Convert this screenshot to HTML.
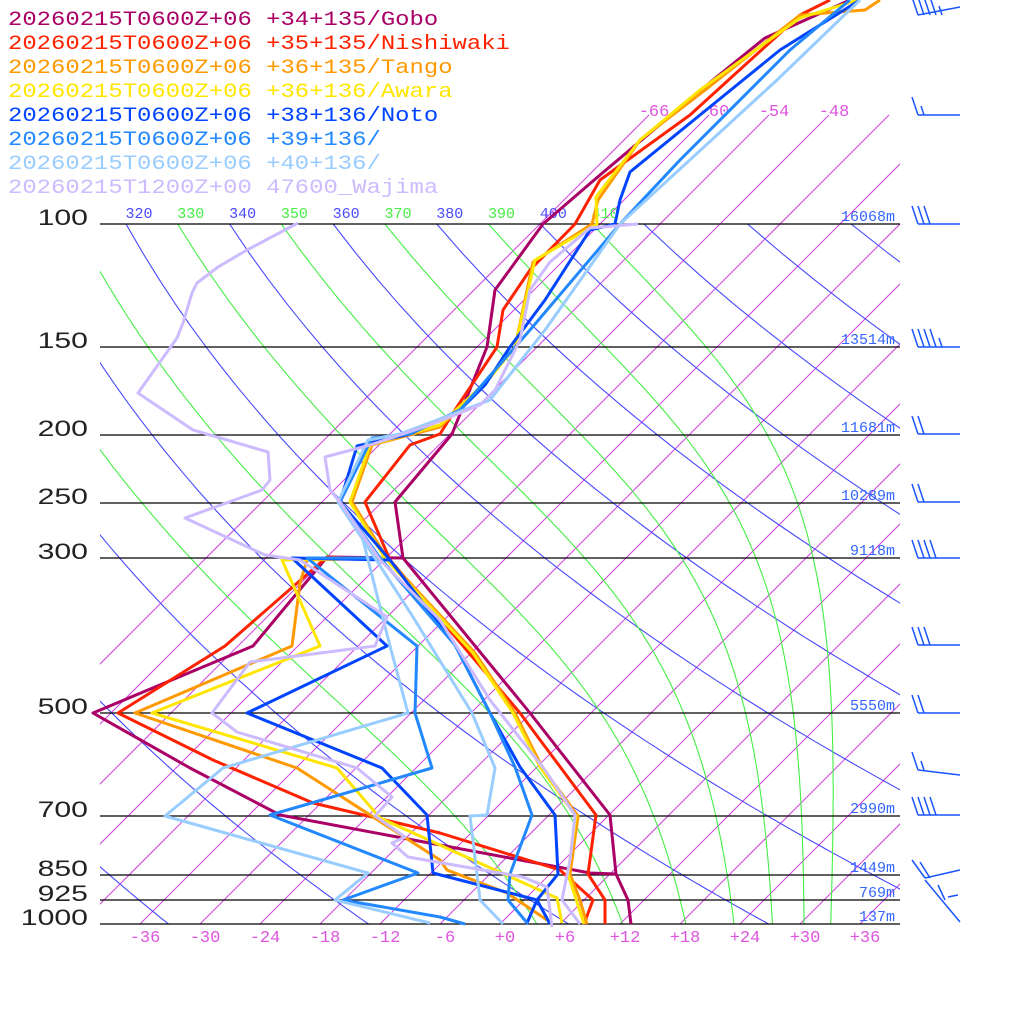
<!DOCTYPE html>
<html><head><meta charset="utf-8"><style>html,body{margin:0;padding:0;background:#fff;width:1024px;height:1024px;overflow:hidden}svg{display:block}</style></head>
<body>
<svg id="s" xmlns="http://www.w3.org/2000/svg" width="1024" height="1024" viewBox="0 0 1024 1024">
<defs><clipPath id="box"><rect x="100" y="224" width="800" height="700"/></clipPath>
<clipPath id="box2"><rect x="100" y="100" width="800" height="824"/></clipPath></defs>
<g id="iso" clip-path="url(#box2)" stroke="#d040e0" stroke-width="1" fill="none"></g>
<g id="adi" clip-path="url(#box)" fill="none" stroke-width="1.1"></g>
<g id="hl" stroke="#000" stroke-width="1.3"></g>
<g id="lab" font-family="Liberation Mono, monospace"></g>
<g id="prof" fill="none" stroke-width="3" stroke-linejoin="round"></g>
<g id="barb" stroke="#1a55ff" stroke-width="1.5" fill="none"></g>
</svg>
<script>
var NS="http://www.w3.org/2000/svg";
function el(p,t,a,txt){var e=document.createElementNS(NS,t);for(var k in a)e.setAttribute(k,a[k]);if(txt!=null)e.textContent=txt;document.getElementById(p).appendChild(e);return e;}
function Y(p){return 924-304*Math.log(1000/p);}
function X(T,y){return 500+10*T+(924-y);}
for(var T=-66;T<=42;T+=6){el("iso","line",{x1:500+10*T,y1:924,x2:500+10*T+809,y2:115});}
for(var th=220;th<=520;th+=20){var pts=[];for(var p=1000;p>=99;p-=10){var y=Y(p);var t=th*Math.pow(p/1000,0.2857)-273.15;pts.push(X(t,y).toFixed(1)+","+y.toFixed(1));}
el("adi","polyline",{points:pts.join(" "),stroke:"#4848ff"});}
function dTdp(T,p){var Tc=T-273.15;var es=6.112*Math.exp(17.67*Tc/(Tc+243.5));var rs=0.622*es/(p-es);var L=2.5e6;return (287*T+L*rs)/(p*(1004+L*L*rs*0.622/(287*T*T)));}
for(var th=290;th<=410;th+=20){var T=th*Math.pow(0.1,0.2857);var pts=[];var p=100;while(p<=1000.01){var y=Y(p);pts.push(X(T-273.15,y).toFixed(1)+","+y.toFixed(1));var h=2;var k1=dTdp(T,p);var k2=dTdp(T+h*k1,p+h);T+=h*(k1+k2)/2;p+=h;}
el("adi","polyline",{points:pts.join(" "),stroke:"#44ee44"});}
var PL=[[100,"100","16068m"],[150,"150","13514m"],[200,"200","11681m"],[250,"250","10289m"],[300,"300","9118m"],[500,"500","5550m"],[700,"700","2990m"],[850,"850","1449m"],[925,"925","769m"],[1000,"1000","137m"]];
PL.forEach(function(a){var y=Math.round(Y(a[0]));el("hl","line",{x1:100,y1:y,x2:900,y2:y});
el("lab","text",{x:88,y:y+1,"font-family":"Liberation Sans, sans-serif","font-size":22,"text-anchor":"end",fill:"#222",textLength:a[1].length*16.8,lengthAdjust:"spacingAndGlyphs"},a[1]);
el("lab","text",{x:895,y:y-3,"font-size":15,"text-anchor":"end",fill:"#3366ff"},a[2]);});
for(var th=320;th<=410;th+=10){var t=th*Math.pow(0.1,0.2857)-273.15;var x=X(t,224)+13;el("lab","text",{x:x,y:218,"font-size":15,"text-anchor":"middle",fill:(th%20==0?"#4848ff":"#44ee44")},""+th);}
[-66,-60,-54,-48].forEach(function(T){el("lab","text",{x:500+10*T+809+5,y:116,"font-size":17,"text-anchor":"middle",fill:"#dd55dd"},""+T);});
for(var T=-36;T<=36;T+=6){el("lab","text",{x:500+10*T+5,y:942,"font-size":17,"text-anchor":"middle",fill:"#dd55dd"},(T>=0?"+":"")+T);}
var H=[["#aa0066","20260215T0600Z+06 +34+135/Gobo"],["#ff2200","20260215T0600Z+06 +35+135/Nishiwaki"],["#ff9900","20260215T0600Z+06 +36+135/Tango"],["#ffe600","20260215T0600Z+06 +36+136/Awara"],["#0044ff","20260215T0600Z+06 +38+136/Noto"],["#2288ff","20260215T0600Z+06 +39+136/"],["#99ccff","20260215T0600Z+06 +40+136/"],["#ccbbff","20260215T1200Z+00 47600_Wajima"]];
H.forEach(function(h,i){el("lab","text",{x:8,y:25+24*i,"font-size":20,fill:h[0],textLength:h[1].length*14.34,lengthAdjust:"spacingAndGlyphs"},h[1]);});
var P=[
["#aa0066","631,924 628,900 616,874 610,815 530,713 403,558 395,502 452,434 487,347 495,290 543,224 600,175 713,80 765,38 850,0"],
["#aa0066","403,558 327,557 253,646 93,713 190,768 280,815 440,845 590,873 616,874"],
["#ff2200","605,924 605,900 588,874 596,815 520,713 390,560 365,502 410,445 440,434 455,410 497,347 503,310 530,270 575,224 600,180 690,115 800,15 830,0"],
["#ff2200","390,560 327,557 225,646 118,713 213,760 313,803 440,833 560,870 593,900 584,924"],
["#ff9900","587,924 580,900 570,874 578,816 542,767 515,713 475,653 387,558 352,502 372,445 440,427 488,380 515,347 533,262 592,224 598,200 640,140 705,90 800,15 865,10 880,0"],
["#ff9900","387,558 307,560 300,583 292,646 135,713 297,768 440,860 447,870 507,893 547,920"],
["#ffe600","584,924 568,874 576,816 540,767 513,713 473,653 385,558 350,502 370,445 440,425 488,380 515,347 535,260 597,224 596,197 640,140 700,90 800,18 858,0"],
["#ffe600","385,558 282,560 320,646 152,713 337,768 380,818 557,898 562,923"],
["#0044ff","550,924 537,900 558,874 555,815 520,767 490,713 455,645 390,560 340,502 357,446 410,434 460,410 485,385 510,347 545,300 590,230 615,224 620,200 630,172 700,115 780,50 860,0"],
["#0044ff","390,560 292,558 387,646 247,713 382,768 427,815 433,873 537,900 527,923"],
["#2288ff","528,924 508,900 510,874 532,815 515,767 490,713 455,645 380,558 340,502 372,438 410,434 460,410 530,330 620,224 680,160 790,50 850,0"],
["#2288ff","380,558 307,558 417,646 415,713 432,768 270,815 418,873 343,900 440,917 465,924"],
["#99ccff","503,924 480,900 477,874 470,816 487,815 495,768 472,713 413,617 375,558 338,502 368,440 400,434 490,400 545,330 620,224 777,80 860,0"],
["#99ccff","363,540 390,646 408,713 223,768 165,816 368,873 335,900 430,923"],
["#ccbbff","580,924 562,900 570,860 572,843 575,815 545,770 490,700 440,620 380,560 340,502 330,490 325,457 370,445 430,425 480,405 495,390 520,340 530,290 550,262 590,228 638,224"],
["#ccbbff","298,223 247,250 218,267 197,283 192,293 183,323 177,338 138,393 193,430 268,452 270,480 262,490 185,518 265,555 300,560 387,617 375,646 250,662 212,713 237,732 357,768 392,797 375,816 405,837 392,843 408,857 523,877 547,887 552,927"]
];
P.forEach(function(a){el("prof","polyline",{points:a[1],stroke:a[0]});});
function barb(y,n,half,tilt){var x0=960,x1=918;el("barb","line",{x1:x0,y1:y-(tilt||0),x2:x1,y2:y});
for(var i=0;i<n;i++){var bx=x1+i*6;el("barb","line",{x1:bx,y1:y,x2:bx-6,y2:y-18});}
if(half){var bx=x1+n*6;el("barb","line",{x1:bx,y1:y,x2:bx-3,y2:y-9});}}
barb(15,4,1,8);barb(115,1,1,0);barb(224,3,0,0);barb(347,4,1,0);barb(434,2,0,0);barb(502,2,0,0);barb(558,4,0,0);barb(645,3,0,0);barb(713,2,0,0);barb(770,1,1,-5);barb(815,4,0,0);
el("barb","line",{x1:960,y1:870,x2:925,y2:878});el("barb","line",{x1:925,y1:878,x2:912,y2:860});el("barb","line",{x1:930,y1:878,x2:920,y2:862});
el("barb","line",{x1:960,y1:922,x2:925,y2:880});el("barb","line",{x1:945,y1:900,x2:938,y2:885});el("barb","line",{x1:948,y1:897,x2:958,y2:895});
</script>
</body></html>
